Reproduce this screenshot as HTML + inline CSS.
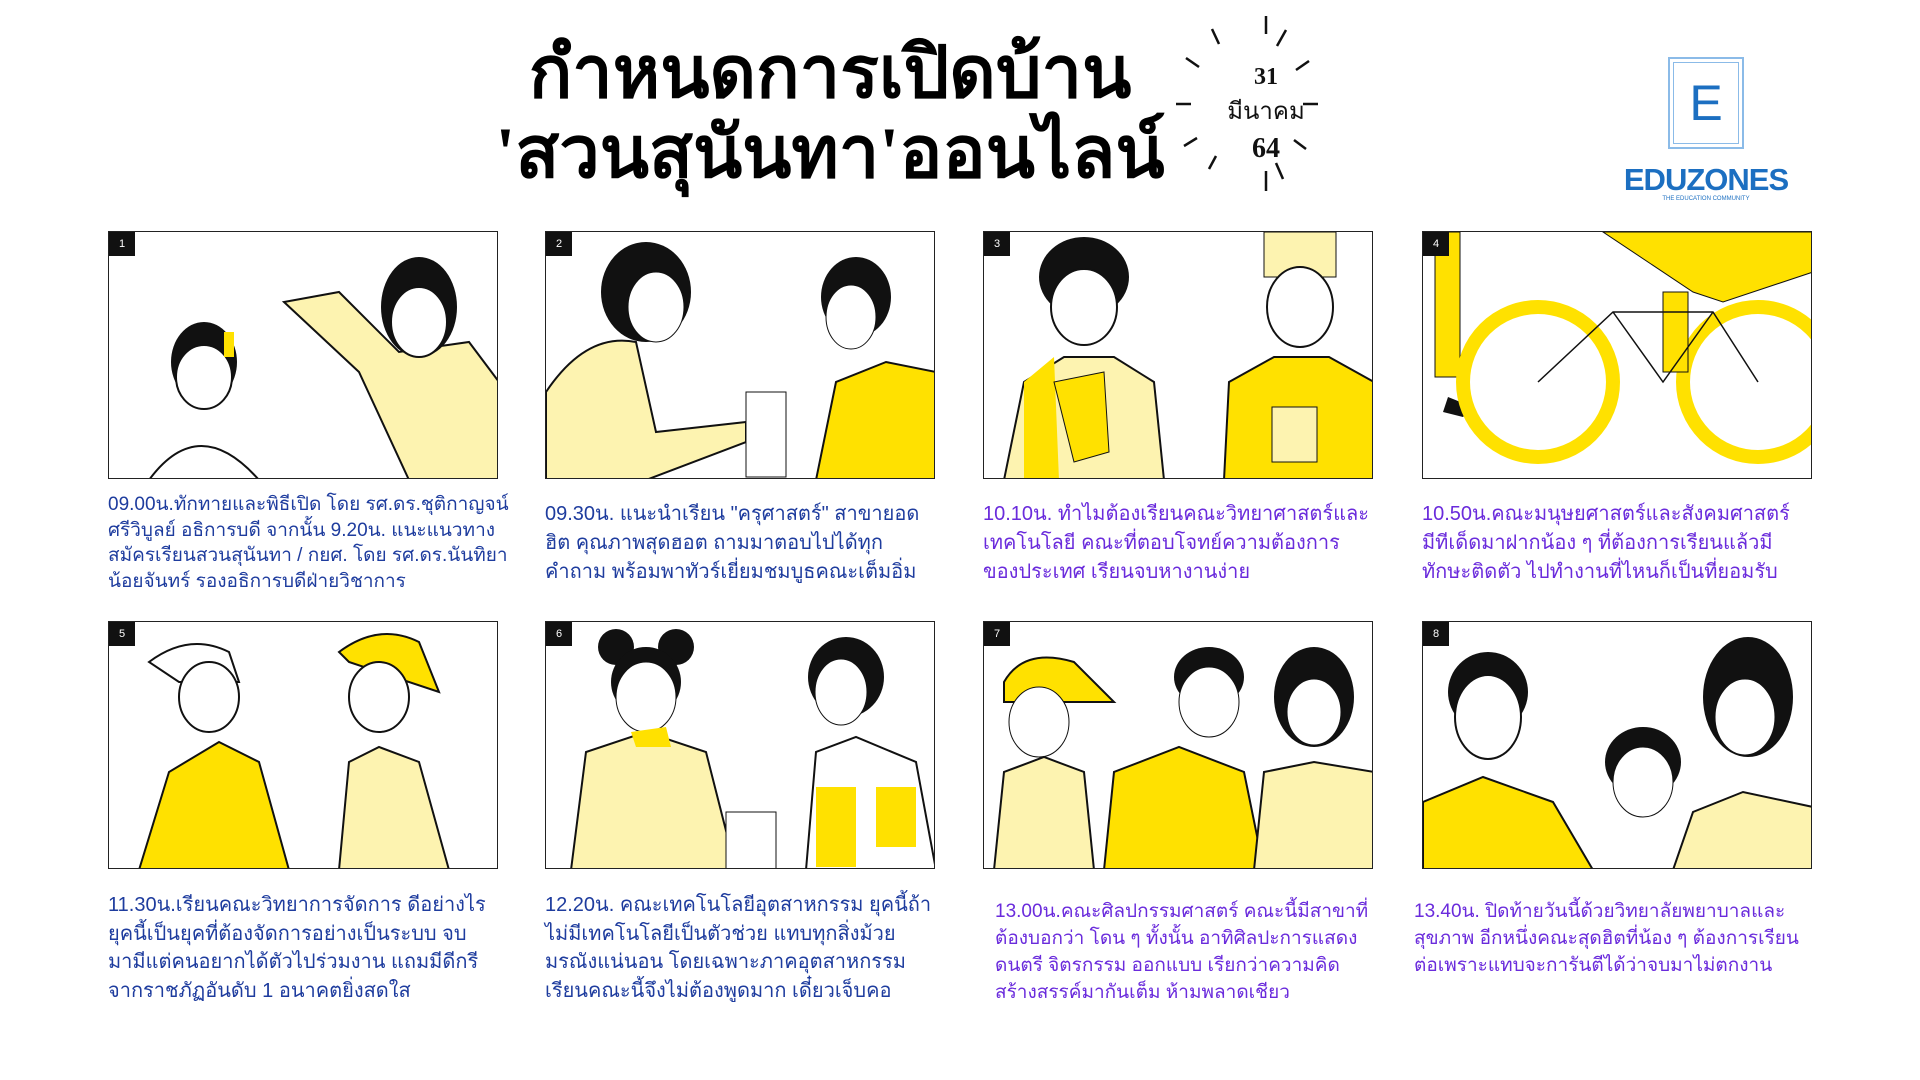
<!DOCTYPE html>
<html><head><meta charset="utf-8"><style>
body{margin:0;width:1920px;height:1080px;background:#fff;position:relative;overflow:hidden;font-family:"Liberation Sans","Noto Sans CJK SC",sans-serif}
.t{position:absolute;font-family:"Liberation Serif","Noto Serif CJK SC",serif;font-weight:bold;font-size:72px;color:#000;white-space:nowrap;text-align:center;width:760px;left:450px}
.p{position:absolute;width:390px;height:248px;border:1.5px solid #222;box-sizing:border-box;overflow:hidden;background:#fff}
.p .n{position:absolute;left:0;top:0;width:26px;height:24px;background:#111;color:#fff;font-size:11px;text-align:center;line-height:24px}
.p svg{position:absolute;left:0;top:0}
.x{position:absolute;width:400px;font-size:20px;white-space:nowrap}
.b{color:#1e3c9e}.v{color:#6a2bdc}
</style></head><body>
<div class="t" style="top:14px">กำหนดการเปิดบ้าน</div>
<div class="t" style="top:94px">'สวนสุนันทา'ออนไลน์</div>
<svg style="position:absolute;left:1176px;top:16px" width="180" height="180" stroke="#111" stroke-width="2.5">
<line x1="90" y1="0" x2="90" y2="18"/><line x1="90" y1="155" x2="90" y2="175"/>
<line x1="0" y1="88" x2="15" y2="88"/><line x1="127" y1="88" x2="142" y2="88"/>
<line x1="36" y1="13" x2="43" y2="28"/><line x1="110" y1="14" x2="101" y2="30"/>
<line x1="10" y1="42" x2="23" y2="51"/><line x1="133" y1="45" x2="120" y2="54"/>
<line x1="8" y1="130" x2="21" y2="122"/><line x1="130" y1="133" x2="118" y2="124"/>
<line x1="33" y1="153" x2="40" y2="140"/><line x1="107" y1="163" x2="100" y2="147"/>
<text x="90" y="68" font-family="Liberation Serif" font-weight="bold" font-size="24" text-anchor="middle" stroke="none" fill="#111">31</text>
<text x="90" y="103" font-family="Liberation Sans,Noto Sans CJK SC,sans-serif" font-size="24" text-anchor="middle" stroke="none" fill="#111">มีนาคม</text>
<text x="90" y="141" font-family="Liberation Serif" font-weight="bold" font-size="28" text-anchor="middle" stroke="none" fill="#111">64</text>
</svg>
<div style="position:absolute;left:1668px;top:57px;width:76px;height:92px;border:2px solid #8bbbe8;box-sizing:border-box"><div style="position:absolute;left:3px;top:3px;right:3px;bottom:3px;border:1.5px solid #8bbbe8;color:#1c6fc1;font-size:50px;text-align:center;line-height:80px">E</div></div>
<div style="position:absolute;left:1616px;top:162px;width:180px;text-align:center;color:#1c6fc1;font-size:31px;font-weight:bold;letter-spacing:-1px">EDUZONES</div>
<div style="position:absolute;left:1616px;top:196px;width:180px;text-align:center;color:#1c6fc1;font-size:6px">THE EDUCATION COMMUNITY</div>

<div class="p" style="left:108px;top:231px"><svg width="390" height="248"><path d="M175 70 L250 140 L300 248 L410 248 L390 150 L360 110 L290 120 L230 60Z" fill="#fdf3b0" stroke="#111" stroke-width="2"/><ellipse cx="310" cy="75" rx="38" ry="50" fill="#111"/><ellipse cx="310" cy="90" rx="28" ry="35" fill="#fff" stroke="#111" stroke-width="2"/><ellipse cx="95" cy="130" rx="33" ry="40" fill="#111"/><ellipse cx="95" cy="145" rx="28" ry="32" fill="#fff" stroke="#111" stroke-width="2"/><rect x="115" y="100" width="10" height="25" fill="#ffe100"/><path d="M40 248 Q90 180 150 248Z" fill="#fff" stroke="#111" stroke-width="2"/></svg><div class="n">1</div></div>
<div class="p" style="left:545px;top:231px"><svg width="390" height="248"><ellipse cx="100" cy="60" rx="45" ry="50" fill="#111"/><ellipse cx="110" cy="75" rx="28" ry="35" fill="#fff" stroke="#111"/><path d="M0 160 Q40 100 90 110 L110 200 L200 190 L200 210 L100 248 L0 248Z" fill="#fdf3b0" stroke="#111" stroke-width="2"/><ellipse cx="310" cy="65" rx="35" ry="40" fill="#111"/><ellipse cx="305" cy="85" rx="25" ry="32" fill="#fff" stroke="#111"/><path d="M270 248 L290 150 L340 130 L390 140 L390 248Z" fill="#ffe100" stroke="#111" stroke-width="2"/><rect x="200" y="160" width="40" height="85" fill="#fff" stroke="#111"/></svg><div class="n">2</div></div>
<div class="p" style="left:983px;top:231px"><svg width="390" height="248"><ellipse cx="100" cy="45" rx="45" ry="40" fill="#111"/><ellipse cx="100" cy="75" rx="33" ry="38" fill="#fff" stroke="#111" stroke-width="2"/><path d="M20 248 L40 150 L80 125 L130 125 L170 150 L180 248Z" fill="#fdf3b0" stroke="#111" stroke-width="2"/><path d="M40 150 L70 125 L75 248 L40 248Z" fill="#ffe100"/><path d="M70 150 L120 140 L125 220 L90 230Z" fill="#ffe100" stroke="#111"/><rect x="280" y="0" width="72" height="45" fill="#fdf3b0" stroke="#111"/><ellipse cx="316" cy="75" rx="33" ry="40" fill="#fff" stroke="#111" stroke-width="2"/><path d="M240 248 L245 150 L290 125 L345 125 L390 150 L390 248Z" fill="#ffe100" stroke="#111" stroke-width="2"/><rect x="288" y="175" width="45" height="55" fill="#fdf3b0" stroke="#111"/></svg><div class="n">3</div></div>
<div class="p" style="left:1422px;top:231px"><svg width="390" height="248"><rect x="12" y="0" width="25" height="145" fill="#ffe100" stroke="#111"/><path d="M25 165 L50 175 L40 185 L20 180Z" fill="#111"/><circle cx="115" cy="150" r="75" fill="none" stroke="#ffe100" stroke-width="14"/><circle cx="335" cy="150" r="75" fill="none" stroke="#ffe100" stroke-width="14"/><path d="M180 0 L390 0 L390 40 L300 70 L270 60Z" fill="#ffe100" stroke="#111"/><rect x="240" y="60" width="25" height="80" fill="#ffe100" stroke="#111"/><path d="M115 150 L190 80 L290 80 L335 150 M190 80 L240 150 L290 80" fill="none" stroke="#111" stroke-width="1.5"/></svg><div class="n">4</div></div>

<div class="p" style="left:108px;top:621px"><svg width="390" height="248"><path d="M40 40 Q80 10 120 30 L130 60 L70 60Z" fill="#fff" stroke="#111" stroke-width="2"/><ellipse cx="100" cy="75" rx="30" ry="35" fill="#fff" stroke="#111" stroke-width="2"/><path d="M30 248 L60 150 L110 120 L150 140 L180 248Z" fill="#ffe100" stroke="#111" stroke-width="2"/><path d="M230 30 Q270 0 310 20 L330 70 L240 40Z" fill="#ffe100" stroke="#111" stroke-width="2"/><ellipse cx="270" cy="75" rx="30" ry="35" fill="#fff" stroke="#111" stroke-width="2"/><path d="M230 248 L240 140 L270 125 L310 140 L340 248Z" fill="#fdf3b0" stroke="#111" stroke-width="2"/></svg><div class="n">5</div></div>
<div class="p" style="left:545px;top:621px"><svg width="390" height="248"><circle cx="70" cy="25" r="18" fill="#111"/><circle cx="130" cy="25" r="18" fill="#111"/><ellipse cx="100" cy="60" rx="35" ry="35" fill="#111"/><ellipse cx="100" cy="75" rx="30" ry="35" fill="#fff" stroke="#111"/><path d="M25 248 L40 130 L100 110 L160 130 L190 248Z" fill="#fdf3b0" stroke="#111" stroke-width="2"/><path d="M85 110 L120 105 L125 125 L90 125Z" fill="#ffe100"/><ellipse cx="300" cy="55" rx="38" ry="40" fill="#111"/><ellipse cx="295" cy="70" rx="26" ry="33" fill="#fff" stroke="#111"/><path d="M260 248 L270 130 L310 115 L370 140 L390 248Z" fill="#fff" stroke="#111" stroke-width="2"/><rect x="270" y="165" width="40" height="80" fill="#ffe100"/><rect x="330" y="165" width="40" height="60" fill="#ffe100"/><rect x="180" y="190" width="50" height="58" fill="#fff" stroke="#111"/></svg><div class="n">6</div></div>
<div class="p" style="left:983px;top:621px"><svg width="390" height="248"><path d="M20 60 Q40 25 90 40 L130 80 L20 80Z" fill="#ffe100" stroke="#111" stroke-width="2"/><ellipse cx="55" cy="100" rx="30" ry="35" fill="#fff" stroke="#111"/><path d="M10 248 L20 150 L60 135 L100 150 L110 248Z" fill="#fdf3b0" stroke="#111" stroke-width="2"/><ellipse cx="225" cy="55" rx="35" ry="30" fill="#111"/><ellipse cx="225" cy="80" rx="30" ry="35" fill="#fff" stroke="#111"/><path d="M120 248 L130 150 L195 125 L260 150 L280 248Z" fill="#ffe100" stroke="#111" stroke-width="2"/><ellipse cx="330" cy="75" rx="40" ry="50" fill="#111"/><ellipse cx="330" cy="90" rx="27" ry="33" fill="#fff" stroke="#111"/><path d="M270 248 L280 150 L330 140 L390 150 L390 248Z" fill="#fdf3b0" stroke="#111" stroke-width="2"/></svg><div class="n">7</div></div>
<div class="p" style="left:1422px;top:621px"><svg width="390" height="248"><ellipse cx="65" cy="70" rx="40" ry="40" fill="#111"/><ellipse cx="65" cy="95" rx="33" ry="42" fill="#fff" stroke="#111" stroke-width="2"/><path d="M0 248 L0 180 L60 155 L130 180 L170 248Z" fill="#ffe100" stroke="#111" stroke-width="2"/><ellipse cx="220" cy="140" rx="38" ry="35" fill="#111"/><ellipse cx="220" cy="160" rx="30" ry="35" fill="#fff" stroke="#111"/><ellipse cx="325" cy="75" rx="45" ry="60" fill="#111"/><ellipse cx="322" cy="95" rx="30" ry="38" fill="#fff" stroke="#111"/><path d="M250 248 L270 190 L320 170 L390 185 L390 248Z" fill="#fdf3b0" stroke="#111" stroke-width="2"/></svg><div class="n">8</div></div>

<div class="x b" style="left:108px;top:492px;line-height:25.5px;font-size:19px">09.00น.ทักทายและพิธีเปิด โดย รศ.ดร.ชุติกาญจน์<br>ศรีวิบูลย์ อธิการบดี จากนั้น 9.20น. แนะแนวทาง<br>สมัครเรียนสวนสุนันทา / กยศ. โดย รศ.ดร.นันทิยา<br>น้อยจันทร์ รองอธิการบดีฝ่ายวิชาการ</div>
<div class="x b" style="left:545px;top:500px;line-height:29px">09.30น. แนะนำเรียน "ครุศาสตร์" สาขายอด<br>ฮิต คุณภาพสุดฮอต ถามมาตอบไปได้ทุก<br>คำถาม พร้อมพาทัวร์เยี่ยมชมบูธคณะเต็มอิ่ม</div>
<div class="x v" style="left:983px;top:500px;line-height:29px">10.10น. ทำไมต้องเรียนคณะวิทยาศาสตร์และ<br>เทคโนโลยี คณะที่ตอบโจทย์ความต้องการ<br>ของประเทศ เรียนจบหางานง่าย</div>
<div class="x v" style="left:1422px;top:500px;line-height:29px">10.50น.คณะมนุษยศาสตร์และสังคมศาสตร์<br>มีทีเด็ดมาฝากน้อง ๆ ที่ต้องการเรียนแล้วมี<br>ทักษะติดตัว ไปทำงานที่ไหนก็เป็นที่ยอมรับ</div>
<div class="x b" style="left:108px;top:891px;line-height:28.5px">11.30น.เรียนคณะวิทยาการจัดการ ดีอย่างไร<br>ยุคนี้เป็นยุคที่ต้องจัดการอย่างเป็นระบบ จบ<br>มามีแต่คนอยากได้ตัวไปร่วมงาน แถมมีดีกรี<br>จากราชภัฏอันดับ 1 อนาคตยิ่งสดใส</div>
<div class="x b" style="left:545px;top:891px;line-height:28.5px">12.20น. คณะเทคโนโลยีอุตสาหกรรม ยุคนี้ถ้า<br>ไม่มีเทคโนโลยีเป็นตัวช่วย แทบทุกสิ่งม้วย<br>มรณังแน่นอน โดยเฉพาะภาคอุตสาหกรรม<br>เรียนคณะนี้จึงไม่ต้องพูดมาก เดี๋ยวเจ็บคอ</div>
<div class="x v" style="left:995px;top:898px;line-height:27px;font-size:19px">13.00น.คณะศิลปกรรมศาสตร์ คณะนี้มีสาขาที่<br>ต้องบอกว่า โดน ๆ ทั้งนั้น อาทิศิลปะการแสดง<br>ดนตรี จิตรกรรม ออกแบบ เรียกว่าความคิด<br>สร้างสรรค์มากันเต็ม ห้ามพลาดเชียว</div>
<div class="x v" style="left:1414px;top:898px;line-height:27px;font-size:19px">13.40น. ปิดท้ายวันนี้ด้วยวิทยาลัยพยาบาลและ<br>สุขภาพ อีกหนึ่งคณะสุดฮิตที่น้อง ๆ ต้องการเรียน<br>ต่อเพราะแทบจะการันตีได้ว่าจบมาไม่ตกงาน</div>
</body></html>
